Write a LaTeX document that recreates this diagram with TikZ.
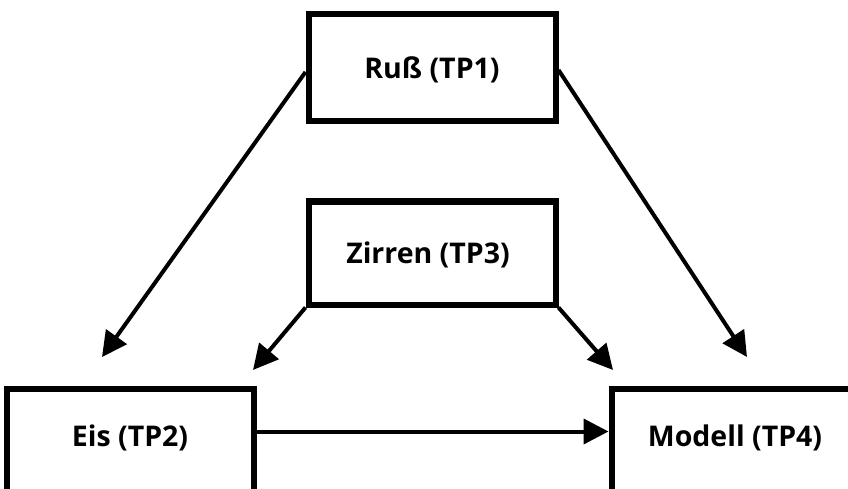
\documentclass[tikz,border=0pt]{standalone}
\usepackage{fontspec}
\setmainfont{Open Sans}
\usetikzlibrary{arrows.meta,calc}

\tikzset{
  tpbox/.style={draw=black, line width=6pt, minimum width=247pt, inner sep=0pt},
  tplabel/.style={font=\bfseries\fontsize{28.5}{34}\selectfont, inner sep=0pt},
  flow/.style={line width=4pt, -{Triangle[length=25pt,width=25pt]}}
}

\begin{document}
\begin{tikzpicture}[x=1pt,y=-1pt]
  \useasboundingbox (0,0) rectangle (848,489);
  \clip (0,0) rectangle (848,489);

  % work packages
  \node[tpbox, minimum height=107pt] (russ)   at (432,68)    {};
  \node[tpbox, minimum height=103pt] (zirren) at (432,253)   {};
  \node[tpbox, minimum height=108pt] (eis)    at (130,442.5) {};
  \node[tpbox, minimum height=108pt] (modell) at (735,442.5) {};

  \node[tplabel] (tRuss)   at (432,70)  {Ruß (TP1)};
  \node[tplabel] (tZirren) at (428,255) {Zirren (TP3)};
  \node[tplabel] (tEis)    at (130,438) {Eis (TP2)};
  \node[tplabel] (tModell) at (735,438) {Modell (TP4)};

  % arrow tips in front of the lower boxes
  \coordinate (eisA)    at (102,357);
  \coordinate (eisB)    at (253,370);
  \coordinate (modellA) at (613,370);
  \coordinate (modellB) at (747,357);

  % connections
  \draw[flow] ($(russ.west)+(0,4)$) -- (eisA);
  \draw[flow] ($(russ.east)+(0,2)$) -- (modellB);
  \draw[flow] (zirren.south west) -- (eisB);
  \draw[flow] (zirren.south east) -- (modellA);
  \draw[flow] (eis.east |- 0,431.5) -- (modell.west |- 0,431.5);
\end{tikzpicture}
\end{document}
